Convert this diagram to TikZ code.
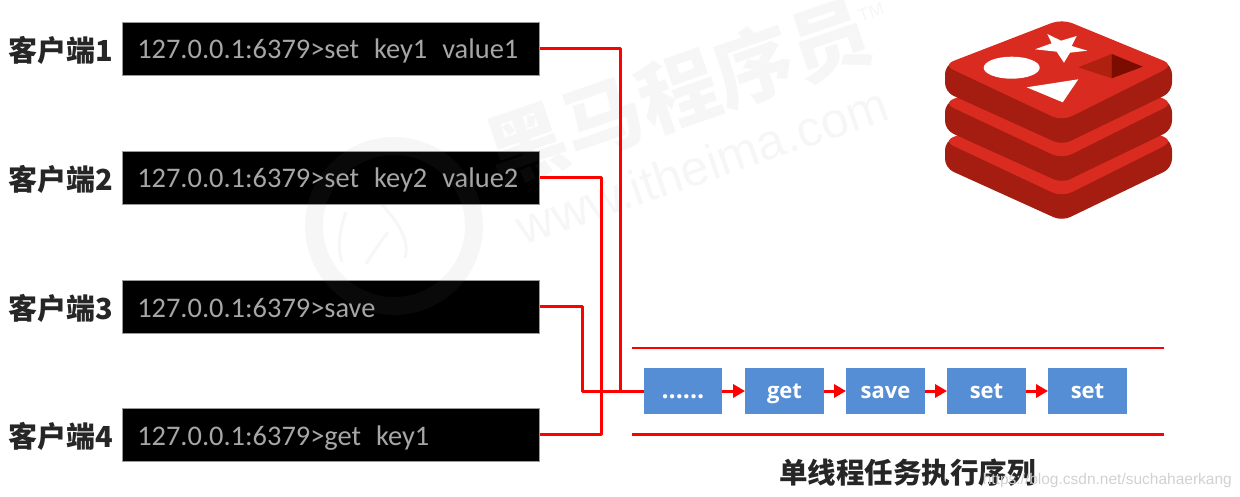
\documentclass[tikz,border=0pt]{standalone}
\usepackage{fontspec}
\setmainfont{Carlito}
\newfontfamily\cjk{Noto Sans CJK SC}
\newfontfamily\taskfont{Open Sans}
\newfontfamily\urlfont{Liberation Sans}
\usetikzlibrary{arrows.meta, calc}
\definecolor{wire}{HTML}{FF0000}
\definecolor{taskblue}{HTML}{558ED5}
\definecolor{redisred}{HTML}{D92B20}
\definecolor{redisdark}{HTML}{A51D10}
\definecolor{redishole}{HTML}{B0200F}
\definecolor{redisdeep}{HTML}{7A0C00}
\newcommand{\taskdots}{{\fontsize{25}{25}\selectfont ......}}
\newcommand{\termgap}{\hspace{15pt}}
\tikzset{
	tri/.tip={Triangle[length=12pt,width=13pt]},
	client/.style={anchor=east, inner sep=0pt, font=\cjk\bfseries\fontsize{29}{29}\selectfont, text=black!85},
	term/.style={anchor=west, fill=black, draw=black!40, line width=0.5pt, text=black!35, inner xsep=15pt, inner ysep=0pt, text width=387pt, text height=24pt, text depth=3pt, minimum height=53pt, align=left, font=\fontsize{28.4}{28.4}\selectfont},
	task/.style={fill=taskblue, text=white, inner sep=0pt, minimum width=78.5pt, minimum height=46pt, text height=17pt, text depth=2pt, font=\taskfont\bfseries\fontsize{22}{22}\selectfont},
	wireline/.style={draw=wire, line width=3pt, line join=round},
	rail/.style={draw=wire, line width=2.8pt},
	stamp/.style={text=gray, opacity=0.07, rotate=19, inner sep=0pt},
	stampline/.style={draw=gray, opacity=0.07}
}

\begin{document}
\begin{tikzpicture}[x=1pt, y=-1pt]
	\useasboundingbox (0,0) rectangle (1240,497);
	
	% Clients
	\foreach \i/\y/\cmd in {1/48.5/set\termgap key1\termgap value1, 2/177.5/set\termgap key2\termgap value2, 3/306.5/save, 4/434.5/get\termgap key1}{
		\node[term] (term\i) at (122,\y) {127.0.0.1:6379>\cmd};
		\node[client] (client\i) at (113.5,\y+1.5) {客户端\i};
	}
	
	% Watermark
	\draw[stampline, line width=18pt] (394,226) circle (80);
	\draw[stampline, line width=3pt] (382,205) .. controls (398,222) and (410,240) .. (405,258);
	\draw[stampline, line width=3pt] (388,232) .. controls (378,245) and (372,255) .. (366,264);
	\draw[stampline, line width=3pt] (346,212) .. controls (338,235) and (338,250) .. (342,262);
	\node[stamp, font=\cjk\bfseries\fontsize{80}{80}\selectfont] (stampname) at (678,92) {黑马程序员};
	\node[stamp, font=\urlfont\fontsize{50}{50}\selectfont] (stampsite) at (702,165) {www.itheima.com};
	\node[stamp, font=\urlfont\fontsize{18}{18}\selectfont] (stamptm) at (871,12) {TM};
	
	% Task queue
	\foreach \n/\x/\t in {0/683/\taskdots, 1/784.5/get, 2/885.5/save, 3/986.5/set, 4/1087.5/set}{
		\node[task] (task\n) at (\x,391) {\t};
	}
	\coordinate (railtopl) at (632,348);
	\coordinate (railtopr) at (1164,348);
	\coordinate (railbotl) at (632,434.5);
	\coordinate (railbotr) at (1164,434.5);
	\draw[rail] (railtopl) -- (railtopr);
	\draw[rail] (railbotl) -- (railbotr);
	\node[inner sep=0pt, font=\cjk\bfseries\fontsize{28.5}{28.5}\selectfont, text=black!85] (title) at (907.5,473) {单线程任务执行序列};
	
	% Wires
	\coordinate (bend1) at (620,391);
	\coordinate (bend2) at (601,391);
	\coordinate (bend3) at (582,391);
	\draw[wireline] (term1.east) -| (bend1);
	\draw[wireline] (term2.east) -| (bend2) |- (term4.east);
	\draw[wireline] (term3.east) -| (bend3) -- (task0.west);
	\foreach \a/\b in {0/1, 1/2, 2/3, 3/4}{\draw[wireline, -tri] (task\a) -- (task\b);}
	
	% Redis logo
	\foreach \d in {76,38,0}{
		\fill[redisdark, rounded corners=9pt] (1062,20+\d) -- (1172,65+\d) -- (1172,92+\d) -- (1062,145+\d) -- (945,92+\d) -- (945,65+\d) -- cycle;
		\fill[redisred, rounded corners=11pt] (1062,19+\d) -- (1174,65+\d) -- (1062,121+\d) -- (943,65+\d) -- cycle;
	}
	\fill[white] (1011.7,67.7) ellipse (28 and 11);
	\fill[white] (1047.3,34) -- (1061,40.7) -- (1076.7,36) -- (1071.7,46) -- (1087.3,50.7) -- (1070,52.7) -- (1064,62.7) -- (1056.7,51.7) -- (1035,49.3) -- (1051.7,43.3) -- cycle;
	\fill[white] (1026.7,87.3) -- (1078.3,79.3) -- (1062.7,102.3) -- cycle;
	\fill[redishole] (1078.3,67.3) -- (1111.7,54) -- (1111.7,78.3) -- cycle;
	\fill[redisdeep] (1111.7,54) -- (1142.7,66.7) -- (1111.7,78.3) -- cycle;
	
	% Blog address
	\node[anchor=east, inner sep=0pt, text=black!18, font=\urlfont\fontsize{15.5}{15.5}\selectfont] (blog) at (1232,480) {https://blog.csdn.net/suchahaerkang};
\end{tikzpicture}
\end{document}
